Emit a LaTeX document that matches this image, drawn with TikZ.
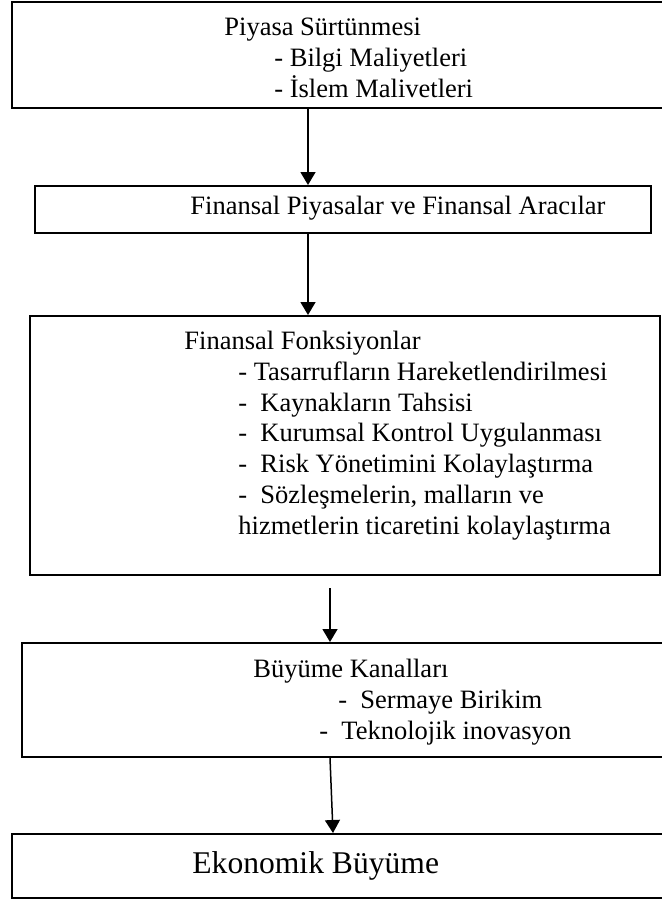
\documentclass[tikz,border=0pt]{standalone}
\usepackage{fontspec}
\setmainfont{Liberation Serif}
\usetikzlibrary{arrows.meta,positioning}

\begin{document}
\begin{tikzpicture}[
    x=0.5pt, y=-0.5pt,
    box/.style={rectangle, draw, line width=1pt, anchor=north west, inner sep=0pt},
    txt/.style={anchor=base west, align=left, inner sep=0pt,
        font=\fontsize{13.25pt}{15.35pt}\selectfont},
    arrow/.style={-{Triangle[length=6.5pt, width=7.5pt]}, line width=0.75pt}
]
    \useasboundingbox (0,0) rectangle (662,900);

    % boxes
    \node[box, minimum width=328.5pt, minimum height=53pt] (fric) at (11,1) {};
    \node[box, minimum width=308pt, minimum height=23.5pt] (mkt) at (34,185) {};
    \node[box, minimum width=315pt, minimum height=129.5pt] (func) at (29,315) {};
    \node[box, minimum width=323.5pt, minimum height=57pt] (chan) at (21,642) {};
    \node[box, minimum width=328.5pt, minimum height=32pt] (grow) at (11,833) {};

    % texts (anchored on the last line)
    \node[txt] (fricT) at (224,97) {Piyasa Sürtünmesi\\
        \hspace*{25pt}- Bilgi Maliyetleri\\
        \hspace*{25pt}- İslem Malivetleri};
    \node[txt] (mktT) at (190,214) {Finansal Piyasalar ve Finansal Aracılar};
    \node[txt] (funcT) at (184,534) {Finansal Fonksiyonlar\\
        \hspace*{27pt}- Tasarrufların Hareketlendirilmesi\\
        \hspace*{27pt}-\ \ Kaynakların Tahsisi\\
        \hspace*{27pt}-\ \ Kurumsal Kontrol Uygulanması\\
        \hspace*{27pt}-\ \ Risk Yönetimini Kolaylaştırma\\
        \hspace*{27pt}-\ \ Sözleşmelerin, malların ve\\
        \hspace*{27pt}hizmetlerin ticaretini kolaylaştırma};
    \node[txt] (chanT) at (253,739) {Büyüme Kanalları\\
        \hspace*{42.5pt}-\ \ Sermaye Birikim\\
        \hspace*{33pt}-\ \ Teknolojik inovasyon};
    \node[txt, font=\fontsize{15.8pt}{18pt}\selectfont] (growT) at (192,873) {Ekonomik Büyüme};

    % arrows
    \coordinate (ax1) at (308,0);
    \coordinate (a3) at (330,588);
    \coordinate (a4s) at (330,0);
    \coordinate (a4e) at (333,0);
    \draw[arrow] (fric.south -| ax1) -- (mkt.north -| ax1);
    \draw[arrow] (mkt.south -| ax1) -- (func.north -| ax1);
    \draw[arrow] (a3) -- (chan.north -| a3);
    \draw[arrow] (chan.south -| a4s) -- (grow.north -| a4e);
\end{tikzpicture}
\end{document}
